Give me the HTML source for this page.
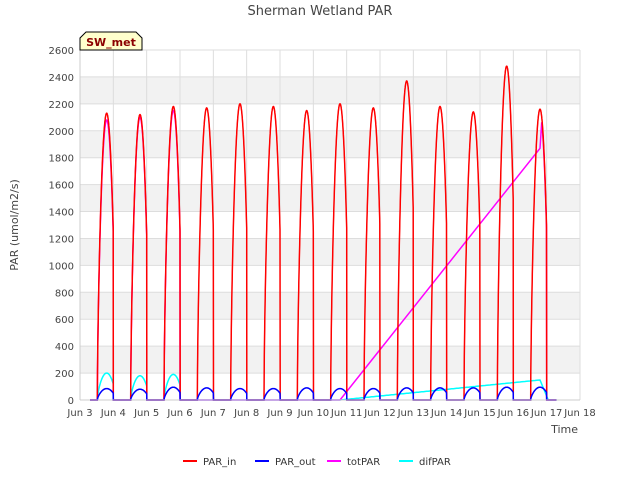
<!DOCTYPE html>
<html><head><meta charset="utf-8"><style>
body{margin:0;background:#fff;font-family:"Liberation Sans","DejaVu Sans",sans-serif}
svg text{font-family:"DejaVu Sans","Liberation Sans",sans-serif}
</style></head><body>
<svg id="c" width="640" height="480" xmlns="http://www.w3.org/2000/svg">
<text x="320" y="15" text-anchor="middle" font-size="13" fill="#444">Sherman Wetland PAR</text>
<g id="grid"></g><g id="series"></g><g id="axes"></g>
<text x="18" y="225" font-size="11" fill="#444" text-anchor="middle" transform="rotate(-90 18 225)">PAR (umol/m2/s)</text>
<text x="578" y="433" font-size="11" fill="#444" text-anchor="end">Time</text>
<g>
<path d="M80,50 L80,38 L86,32 L136,32 L142,38 L142,50 Z" fill="#ffffcc" stroke="#000"/>
<text x="111" y="46" font-size="11" font-weight="bold" fill="#8b0000" text-anchor="middle">SW_met</text></g>
<g id="legend"></g>
</svg>
<script>
const dayLabels=["Jun 3","Jun 4","Jun 5","Jun 6","Jun 7","Jun 8","Jun 9","Jun 10","Jun 11","Jun 12","Jun 13","Jun 14","Jun 15","Jun 16","Jun 17","Jun 18"];
const yTicks=[0,200,400,600,800,1000,1200,1400,1600,1800,2000,2200,2400,2600];
const parInPeaks=[2130,2120,2180,2170,2200,2180,2150,2200,2170,2370,2180,2140,2480,2160];
const parOutPeaks=[85,80,95,90,85,85,90,85,85,90,90,90,95,95];
const totPeaks=[2080,2100,2150];
const totLine=[[7.8,0],[13.8,1870]];
const difPeaks=[200,180,190];
const difLine=[[7.8,0],[13.85,150]];
const NS="http://www.w3.org/2000/svg";
const L=80,R=580,T=50,B=400;
const X=d=>L+(R-L)*d/15, Y=v=>B-(B-T)*v/2600;
function el(tag,at,p){const e=document.createElementNS(NS,tag);for(const k in at)e.setAttribute(k,at[k]);p.appendChild(e);return e;}
const grid=document.getElementById('grid'),axes=document.getElementById('axes'),ser=document.getElementById('series');
for(let i=0;i<yTicks.length-1;i++){if(i%2==1){const r=el('rect',{x:L,y:Y(yTicks[i+1]),width:R-L,height:Y(yTicks[i])-Y(yTicks[i+1]),fill:'#f2f2f2'},grid);}}
yTicks.forEach(v=>{el('line',{x1:L,x2:R,y1:Y(v),y2:Y(v),stroke:'#ddd'},grid);
const t=el('text',{x:L-6,y:Y(v)+4,'font-size':10,fill:'#444','text-anchor':'end'},axes);t.textContent=v;
});
dayLabels.forEach((s,i)=>{el('line',{x1:X(i),x2:X(i),y1:T,y2:B,stroke:'#ddd'},grid);
const t=el('text',{x:X(i),y:B+16,'font-size':10,fill:'#444','text-anchor':'middle'},axes);t.textContent=s;
});
el('line',{x1:L,x2:L,y1:T,y2:B,stroke:'#ccc'},axes);el('line',{x1:L,x2:R,y1:B,y2:B,stroke:'#ccc'},axes);
function prof(t){const s=0.52,w=0.56;if(t<s||t>s+w)return 0;return Math.pow(Math.sin(Math.PI*(t-s)/w),0.65);}
function dayPts(peaks,startDay,endDay){const pts=[];for(let d=startDay;d<=endDay;d+=0.005){const k=Math.floor(d);const p=peaks[k-Math.floor(startDay)];pts.push([d,p===undefined?0:p*prof(d-k)]);}return pts;}
function draw(pts,color,name,w){const p=el('polyline',{points:pts.map(q=>X(q[0]).toFixed(1)+','+Y(q[1]).toFixed(1)).join(' '),fill:'none',stroke:color,'stroke-width':w||1.5},ser);
}
// difPAR
let dp=dayPts(difPeaks,0.3,3.0);
dp=dp.concat([[3.0,0],[difLine[0][0],0]]);
for(let d=difLine[0][0];d<=difLine[1][0];d+=0.05){const f=(d-difLine[0][0])/(difLine[1][0]-difLine[0][0]);dp.push([d,difLine[0][1]+f*(difLine[1][1]-difLine[0][1])]);}
dp.push([14.05,0],[14.3,0]);draw(dp,'#00ffff','difPAR-line');
// totPAR
let tp=dayPts(totPeaks,0.3,3.0);tp.push([3.0,0],[totLine[0][0],0],[totLine[1][0],totLine[1][1]]);
dayPts([parInPeaks[13]],13.8,14.3).forEach(q=>{if(q[0]>13.85)tp.push([q[0],q[1]*0.98]);});draw(tp,'#ff00ff','totPAR-line');
// PAR_in
draw(dayPts(parInPeaks,0.3,14.3),'#ff0000','PAR_in-line');
// PAR_out
draw(dayPts(parOutPeaks,0.3,14.3),'#0000ff','PAR_out-line');
const leg=[["PAR_in","#ff0000"],["PAR_out","#0000ff"],["totPAR","#ff00ff"],["difPAR","#00ffff"]];
const lg=document.getElementById('legend');
leg.forEach((e,i)=>{const x=183+i*72;const g=el('g',{},lg);
el('line',{x1:x,x2:x+14,y1:461,y2:461,stroke:e[1],'stroke-width':2},g);
const t=el('text',{x:x+20,y:465,'font-size':10,fill:'#333'},g);t.textContent=e[0];});
</script>
</body></html>
